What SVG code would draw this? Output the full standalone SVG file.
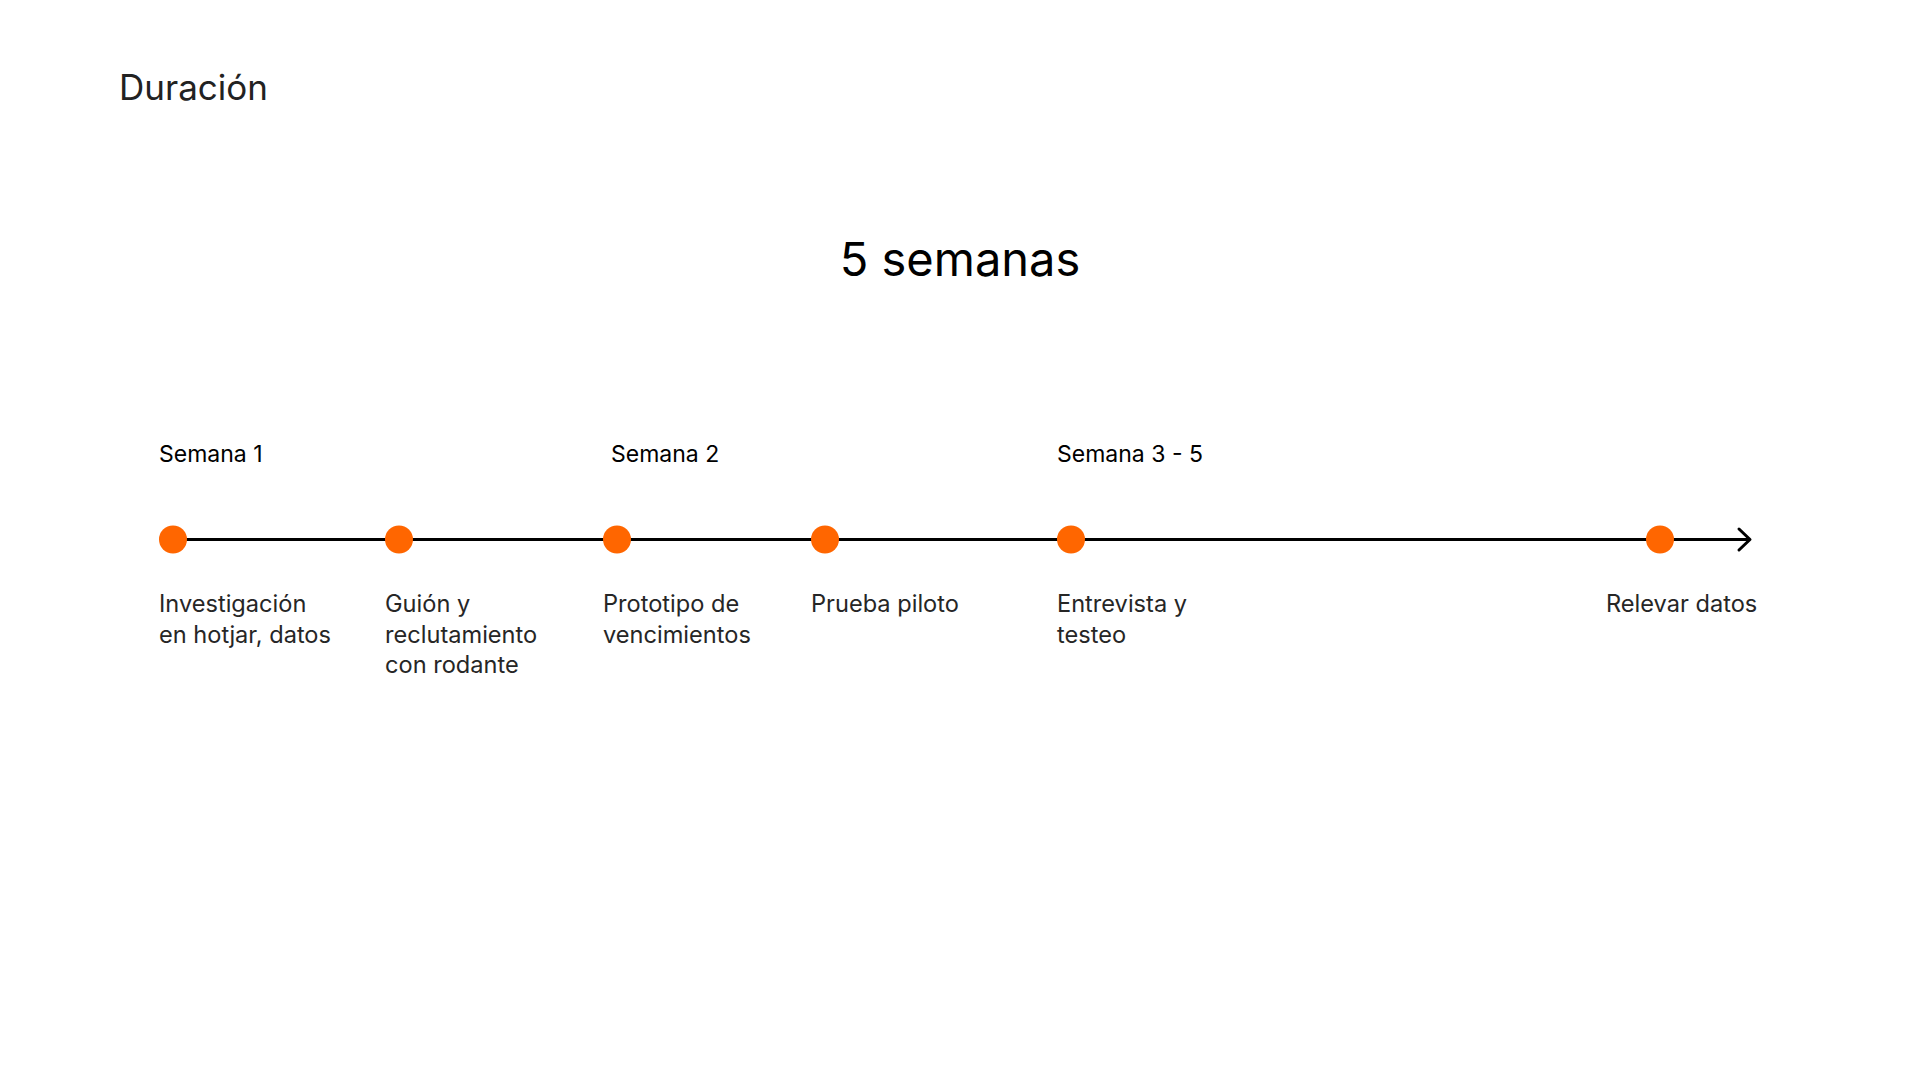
<svg xmlns="http://www.w3.org/2000/svg" width="1920" height="1080" viewBox="0 0 1920 1080">
<style>
  text { font-family: Inter, "Noto Sans", "Liberation Sans", sans-serif; }
  .title { font-size: 35px; fill: #222222; }
  .big { font-size: 47px; fill: #000000; }
  .week { font-size: 23px; fill: #000000; }
  .lbl { font-size: 23.6px; fill: #262626; }
  .dot { fill: #FF6600; }
  .axis { stroke: #000000; stroke-width: 3; fill: none; }
</style>
<rect width="1920" height="1080" fill="#ffffff"/>
<g id="title"><text class="title" x="119" y="100">Duración</text></g>
<g id="heading"><text class="big" x="960" y="276" text-anchor="middle">5 semanas</text></g>
<g id="weeks">
  <text class="week" x="159" y="462">Semana 1</text>
  <text class="week" x="611" y="462">Semana 2</text>
  <text class="week" x="1057" y="462">Semana 3 - 5</text>
</g>
<g id="connectors">
  <line class="axis" x1="173" y1="539.5" x2="1750" y2="539.5"/>
  <polyline class="axis" points="1739,529 1750,539.5 1739,550" stroke-linecap="round" stroke-linejoin="round"/>
</g>
<g id="n1"><circle class="dot" cx="173" cy="539.5" r="14"/>
  <text class="lbl" x="159" y="612">Investigación</text>
  <text class="lbl" x="159" y="642.5">en hotjar, datos</text></g>
<g id="n2"><circle class="dot" cx="399" cy="539.5" r="14"/>
  <text class="lbl" x="385" y="612">Guión y</text>
  <text class="lbl" x="385" y="642.5">reclutamiento</text>
  <text class="lbl" x="385" y="673">con rodante</text></g>
<g id="n3"><circle class="dot" cx="617" cy="539.5" r="14"/>
  <text class="lbl" x="603" y="612">Prototipo de</text>
  <text class="lbl" x="603" y="642.5">vencimientos</text></g>
<g id="n4"><circle class="dot" cx="825" cy="539.5" r="14"/>
  <text class="lbl" x="811" y="612">Prueba piloto</text></g>
<g id="n5"><circle class="dot" cx="1071" cy="539.5" r="14"/>
  <text class="lbl" x="1057" y="612">Entrevista y</text>
  <text class="lbl" x="1057" y="642.5">testeo</text></g>
<g id="n6"><circle class="dot" cx="1660" cy="539.5" r="14"/>
  <text class="lbl" x="1606" y="612">Relevar datos</text></g>
</svg>
